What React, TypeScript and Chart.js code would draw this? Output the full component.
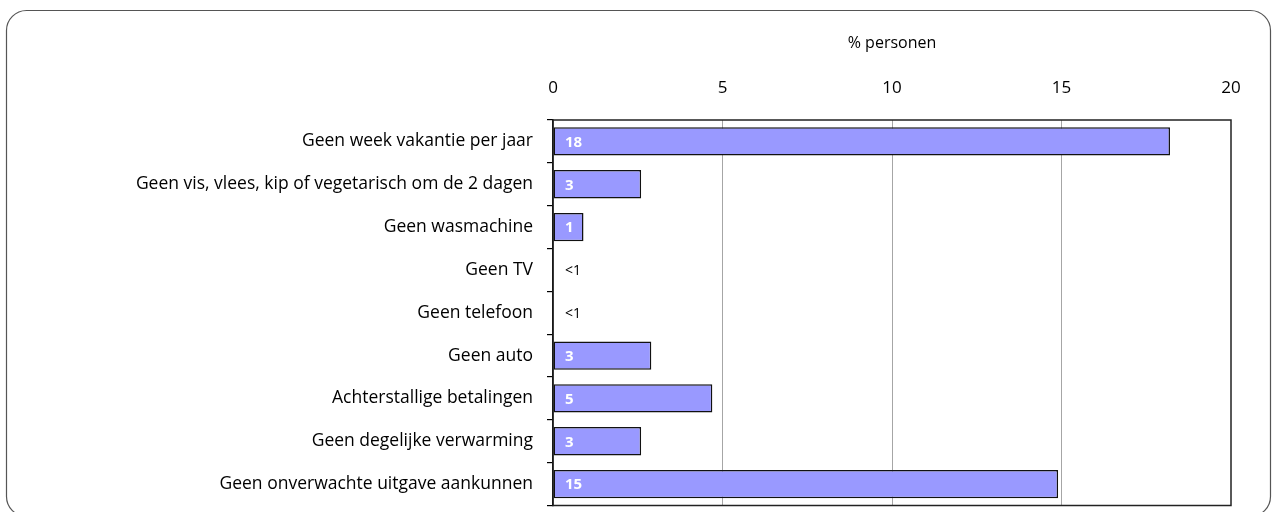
import React, { useEffect, useRef } from "react";
import { Chart, registerables } from "chart.js";

Chart.register(...registerables);

const categories = [
  "Geen week vakantie per jaar",
  "Geen vis, vlees, kip of vegetarisch om de 2 dagen",
  "Geen wasmachine",
  "Geen TV",
  "Geen telefoon",
  "Geen auto",
  "Achterstallige betalingen",
  "Geen degelijke verwarming",
  "Geen onverwachte uitgave aankunnen",
];
const values = [18.2, 2.6, 0.9, 0, 0, 2.9, 4.7, 2.6, 14.9];
const valueLabels = ["18", "3", "1", "<1", "<1", "3", "5", "3", "15"];
const xTicks = [0, 5, 10, 15, 20];
const axisTitle = "% personen";

const FONT = "'Open Sans'";

export default function App() {
  const ref = useRef<HTMLCanvasElement | null>(null);

  useEffect(() => {
    if (!ref.current) return;

    const framePlugin = {
      id: "frame",
      beforeDraw(chart: any) {
        const ctx = chart.ctx;
        ctx.save();
        ctx.fillStyle = "#fff";
        ctx.fillRect(0, 0, chart.width, chart.height);
        ctx.strokeStyle = "#555";
        ctx.lineWidth = 1.2;
        ctx.beginPath();
        (ctx as any).roundRect(6.5, 10.5, 1264, 506, 20);
        ctx.stroke();
        ctx.restore();
      },
      afterDatasetsDraw(chart: any) {
        const ctx = chart.ctx;
        const a = chart.chartArea;
        ctx.save();
        ctx.strokeStyle = "#222";
        ctx.lineWidth = 1.5;
        ctx.strokeRect(a.left, a.top, a.right - a.left, a.bottom - a.top);
        const meta = chart.getDatasetMeta(0);
        meta.data.forEach((bar: any, i: number) => {
          const txt = valueLabels[i];
          const inside = values[i] >= 0.5;
          ctx.font = (inside ? "bold 15px " : "14px ") + FONT;
          ctx.fillStyle = inside ? "#fff" : "#000";
          ctx.textAlign = "left";
          ctx.textBaseline = "middle";
          ctx.fillText(txt, a.left + 12, bar.y + 1);
        });
        ctx.restore();
      },
    };

    const chart = new Chart(ref.current, {
      type: "bar",
      data: {
        labels: categories,
        datasets: [
          {
            data: values,
            backgroundColor: "#9999FF",
            borderColor: "#111",
            borderWidth: 1.5,
            borderSkipped: false,
            barPercentage: 0.66,
            categoryPercentage: 1,
          },
        ],
      },
      options: {
        indexAxis: "y",
        animation: false,
        responsive: false,
        devicePixelRatio: 1,
        layout: { padding: { left: 0, right: 45, top: 0, bottom: 0 } },
        plugins: {
          legend: { display: false },
          tooltip: { enabled: false },
        },
        scales: {
          x: {
            position: "top",
            min: 0,
            max: 20,
            afterBuildTicks(scale: any) {
              scale.ticks = xTicks.map((v) => ({ value: v }));
            },
            afterFit(scale: any) {
              scale.height = 120;
            },
            border: { display: false },
            grid: {
              color: (c: any) =>
                c.tick && (c.tick.value === 0 || c.tick.value === 20) ? "rgba(0,0,0,0)" : "#A6A6A6",
              lineWidth: 1,
              drawTicks: false,
            },
            ticks: {
              color: "#000",
              font: { family: FONT, size: 17 },
              padding: 22,
              maxRotation: 0,
            },
            title: {
              display: true,
              text: axisTitle,
              color: "#000",
              font: { family: FONT, size: 16 },
              padding: { top: 34, bottom: 0 },
            },
          },
          y: {
            afterFit(scale: any) {
              scale.width = 553;
            },
            border: { display: true, color: "#000", width: 1.5 },
            grid: {
              drawOnChartArea: false,
              drawTicks: true,
              tickLength: 6,
              color: "#000",
              lineWidth: 1.2,
              offset: true,
            },
            ticks: {
              color: "#000",
              font: { family: FONT, size: 17.5 },
              padding: 14,
            },
          },
        },
      },
      plugins: [framePlugin],
    });
    return () => chart.destroy();
  }, []);

  return (
    <div style={{ position: "absolute", left: 0, top: 0, width: 1276, height: 512, overflow: "hidden" }}>
      <canvas ref={ref} width={1276} height={530} style={{ display: "block" }} />
    </div>
  );
}
